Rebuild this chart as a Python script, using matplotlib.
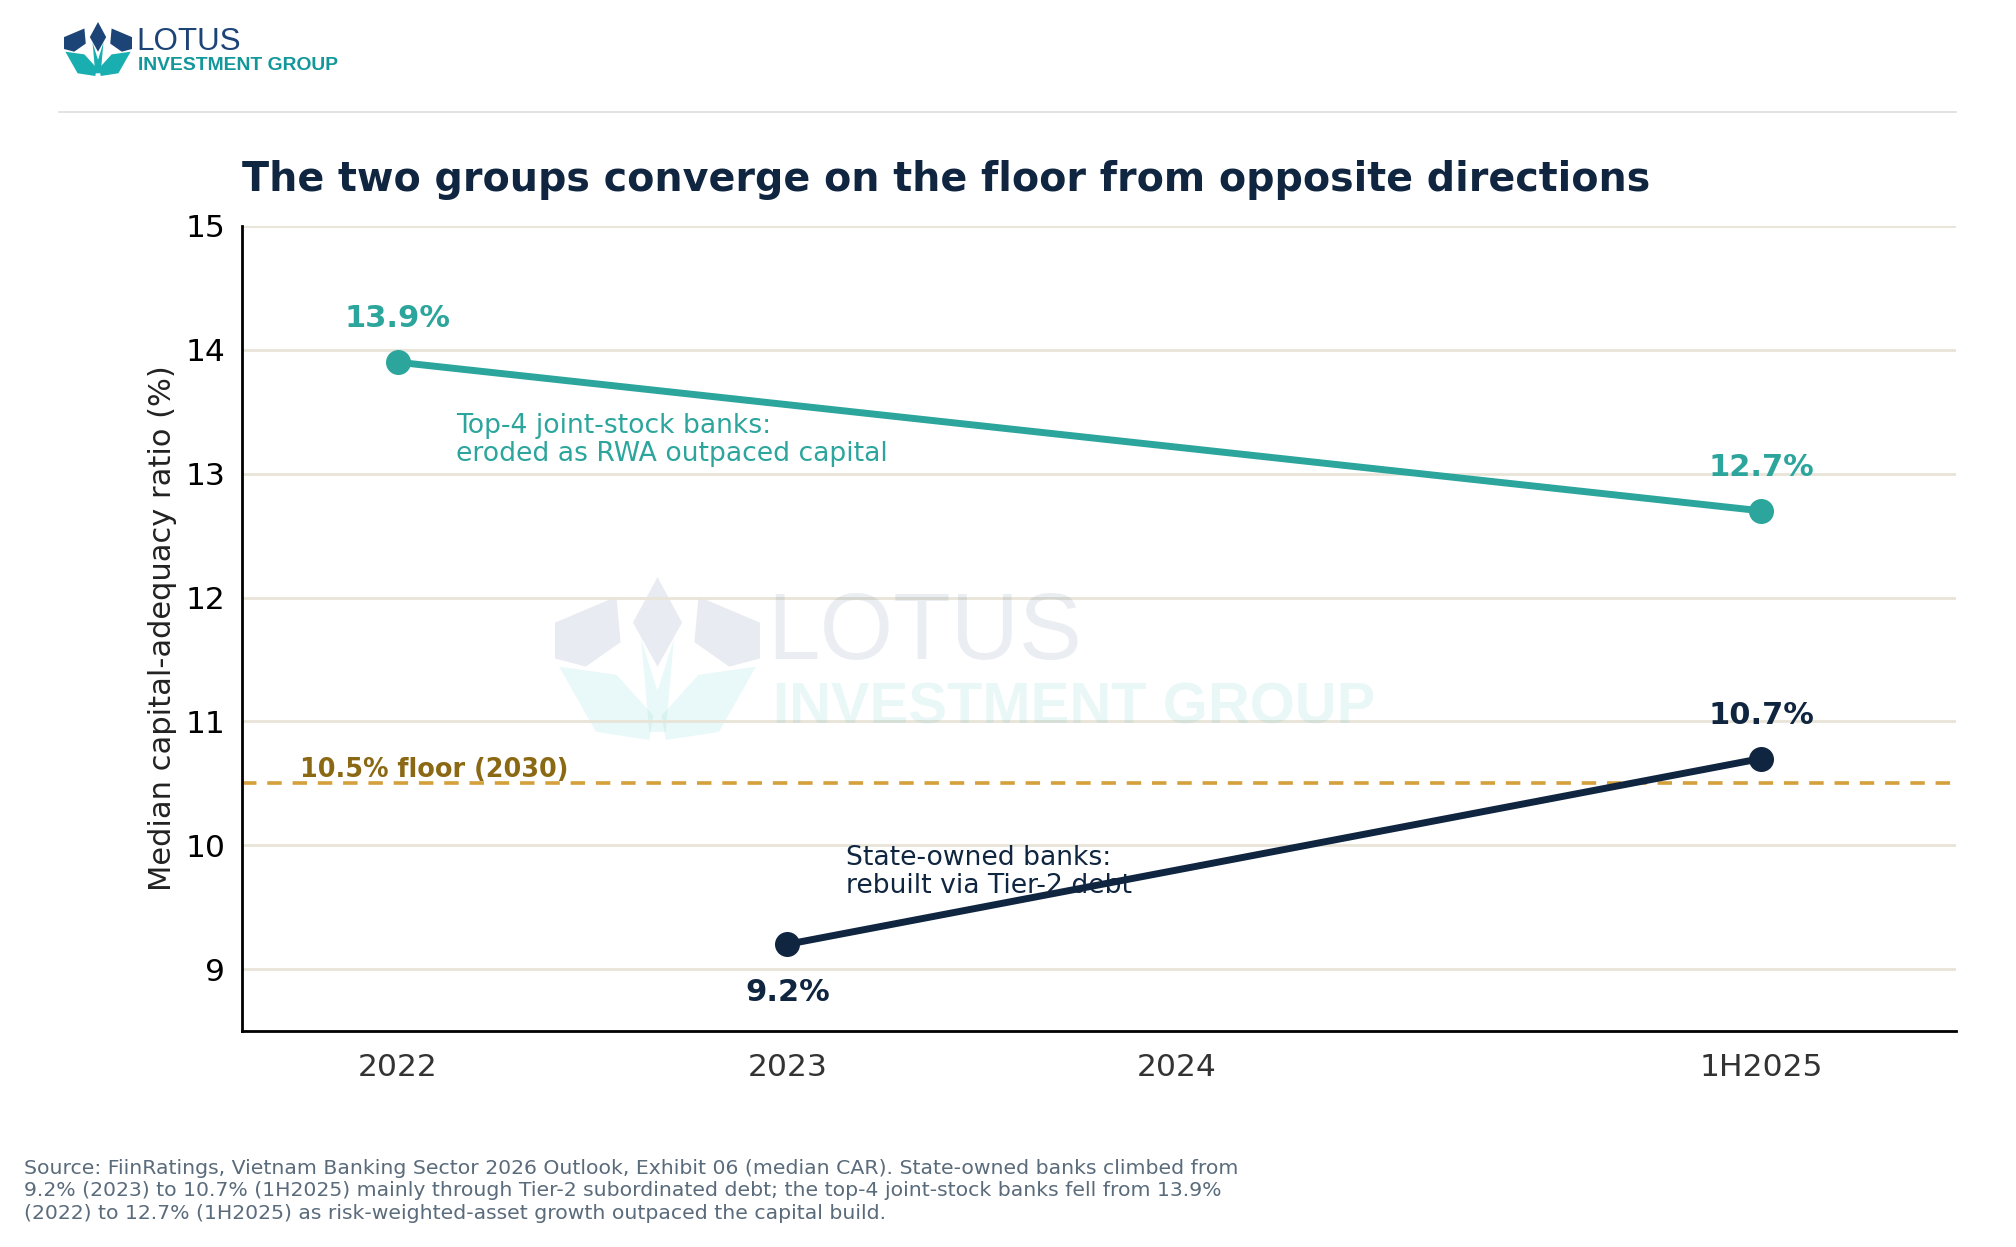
import numpy as np
import matplotlib.pyplot as plt
from matplotlib.patches import Polygon

# data
categories = ['2022', '2023', '2024', '1H2025']
cat_pos = [0, 1, 2, 3.5]
jsb_x = [0, 3.5]
jsb_car = [13.9, 12.7]
soe_x = [1, 3.5]
soe_car = [9.2, 10.7]
floor = 10.5

teal = '#2ca59d'
navy = '#0f2540'
gold = '#d4a03c'
brown = '#8b6914'

fig = plt.figure(figsize=(10.08, 6.235), dpi=200)
ax = fig.add_axes([242/2016, 1 - 1031/1247, (1956-242)/2016, (1031-226)/1247])


def draw_logo(axl, dark, light, alpha=1.0):
    # rough lotus icon in unit square
    axl.set_xlim(0, 1)
    axl.set_ylim(0, 1)
    axl.axis('off')
    shapes = [
        ([(0.5, 1.0), (0.62, 0.72), (0.5, 0.45), (0.38, 0.72)], dark),
        ([(0.0, 0.72), (0.3, 0.88), (0.32, 0.6), (0.15, 0.45), (0.0, 0.5)], dark),
        ([(1.0, 0.72), (0.7, 0.88), (0.68, 0.6), (0.85, 0.45), (1.0, 0.5)], dark),
        ([(0.02, 0.45), (0.3, 0.4), (0.48, 0.15), (0.46, 0.0), (0.2, 0.05)], light),
        ([(0.98, 0.45), (0.7, 0.4), (0.52, 0.15), (0.54, 0.0), (0.8, 0.05)], light),
        ([(0.42, 0.62), (0.5, 0.3), (0.58, 0.62), (0.54, 0.05), (0.46, 0.05)], light),
    ]
    for pts, c in shapes:
        axl.add_patch(Polygon(pts, closed=True, color=c, alpha=alpha, lw=0))


# header logo
logo_ax = fig.add_axes([64/2016, 1 - 76/1247, 68/2016, 54/1247])
draw_logo(logo_ax, '#1d4477', '#19aeb0')
fig.text(136/2016, 1 - 42/1247, 'LOTUS', fontsize=11.3, color='#1d4477',
         family='Liberation Sans', va='center', ha='left')
fig.text(138/2016, 1 - 65/1247, 'INVESTMENT GROUP', fontsize=6.95, color='#12979b',
         family='Liberation Sans', weight='bold', va='center', ha='left')
fig.add_artist(plt.Line2D([59/2016, 1956/2016], [1 - 112/1247, 1 - 112/1247],
                          color='#dddddd', lw=0.6))

# watermark
wm_ax = fig.add_axes([555/2016, 1 - 740/1247, 205/2016, 163/1247], zorder=0)
draw_logo(wm_ax, '#9aa8c0', '#9fe0e0', alpha=0.22)
fig.text(767/2016, 1 - 634/1247, 'LOTUS', fontsize=34, color='#1d4477', alpha=0.09,
         family='Liberation Sans', va='center', ha='left')
fig.text(773/2016, 1 - 708/1247, 'INVESTMENT GROUP', fontsize=20.9, color='#19aeb0',
         alpha=0.09, family='Liberation Sans', weight='bold', va='center', ha='left')
ax.set_zorder(1)
ax.patch.set_alpha(0)

ax.axhline(floor, color=gold, lw=1.3, ls=(0, (4, 3)), zorder=2)
ax.text(-0.25, floor, '10.5% floor (2030)', color=brown, fontsize=9.2,
        weight='bold', va='bottom', ha='left')

ax.plot(jsb_x, jsb_car, color=teal, lw=2.5, marker='o', markersize=8, zorder=4)
ax.plot(soe_x, soe_car, color=navy, lw=2.5, marker='o', markersize=8, zorder=4)

for x, y in zip(jsb_x, jsb_car):
    ax.text(x, y + 0.35, f'{y:.1f}%', color=teal, fontsize=11, weight='bold',
            ha='center', va='center')
ax.text(soe_x[1], soe_car[1] + 0.35, f'{soe_car[1]:.1f}%', color=navy, fontsize=11,
        weight='bold', ha='center', va='center')
ax.text(soe_x[0], soe_car[0] - 0.39, f'{soe_car[0]:.1f}%', color=navy, fontsize=11,
        weight='bold', ha='center', va='center')

ax.text(0.15, 13.49, 'Top-4 joint-stock banks:\neroded as RWA outpaced capital',
        color=teal, fontsize=9.6, va='top', ha='left', zorder=3, linespacing=1.08)
ax.text(1.15, 10.0, 'State-owned banks:\nrebuilt via Tier-2 debt',
        color=navy, fontsize=9.6, va='top', ha='left', zorder=3, linespacing=1.08)

ax.set_xlim(-0.4, 4.0)
ax.set_ylim(8.5, 15)
ax.set_yticks([9, 10, 11, 12, 13, 14, 15])
ax.set_xticks(cat_pos)
ax.set_xticklabels(categories)
ax.tick_params(axis='both', length=0, labelsize=11.3, pad=6)
ax.tick_params(axis='x', labelcolor='#333333', pad=8)
ax.grid(axis='y', color='#e8e4d8', lw=1.0)
ax.set_axisbelow(True)
for s in ['top', 'right']:
    ax.spines[s].set_visible(False)
ax.spines['left'].set_linewidth(1.0)
ax.spines['bottom'].set_linewidth(1.0)
ax.set_ylabel('Median capital-adequacy ratio (%)', fontsize=11, color='#222222', labelpad=3)

fig.text(242/2016, 1 - 180/1247, 'The two groups converge on the floor from opposite directions',
         fontsize=14.25, weight='bold', color=navy, va='center', ha='left')

fig.text(24/2016, 1 - 1191/1247,
         'Source: FiinRatings, Vietnam Banking Sector 2026 Outlook, Exhibit 06 (median CAR). '
         'State-owned banks climbed from\n9.2% (2023) to 10.7% (1H2025) mainly through Tier-2 '
         'subordinated debt; the top-4 joint-stock banks fell from 13.9%\n(2022) to 12.7% (1H2025) '
         'as risk-weighted-asset growth outpaced the capital build.',
         fontsize=7.33, color='#5a6b7b', va='center', ha='left', linespacing=1.22)

fig.savefig('out.png', dpi=200)
